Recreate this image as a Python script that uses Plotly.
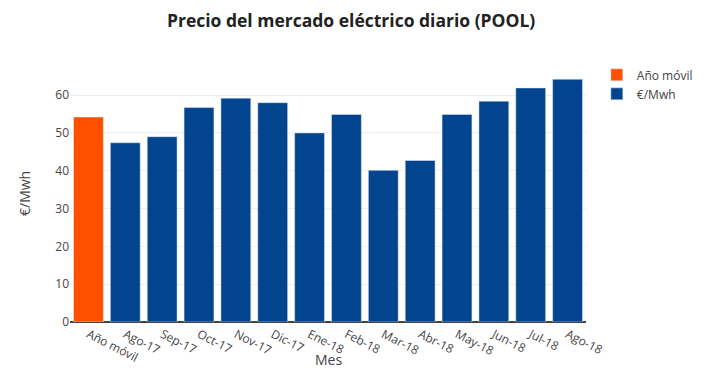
import plotly.graph_objects as go

movil_cat = ["Año móvil"]
movil_val = [54.2]
months = ["Ago-17", "Sep-17", "Oct-17", "Nov-17", "Dic-17", "Ene-18", "Feb-18",
          "Mar-18", "Abr-18", "May-18", "Jun-18", "Jul-18", "Ago-18"]
prices = [47.4, 49.0, 56.7, 59.2, 58.0, 50.0, 54.9, 40.1, 42.7, 54.9, 58.4, 61.9, 64.2]

fig = go.Figure()
fig.add_trace(go.Bar(x=movil_cat, y=movil_val, name="Año móvil", marker_color="#ff5000"))
fig.add_trace(go.Bar(x=months, y=prices, name="€/Mwh", marker_color="#03448f"))

# page body has an 8px margin, so the figure is drawn 8px smaller
fig.update_layout(
    width=706, height=376,
    margin=dict(l=62, r=128, t=58, b=62, autoexpand=False),
    font=dict(family="Open Sans", size=12, color="#444"),
    title=dict(text="<b>Precio del mercado eléctrico diario (POOL)</b>", x=0.486, xanchor="center",
               y=0.966, yanchor="middle", font=dict(size=17.5, color="#222")),
    barmode="group", bargap=0.19,
    paper_bgcolor="white", plot_bgcolor="white",
    showlegend=True,
    legend=dict(x=1.021, y=1.022, xanchor="left", yanchor="top", font=dict(size=12)),
    xaxis=dict(tickangle=27, showline=True,
               linecolor="#444", linewidth=1, categoryorder="array", automargin=False,
               categoryarray=movil_cat + months),
    yaxis=dict(gridcolor="#eee", dtick=10,
               zeroline=True, zerolinecolor="#444", range=[0, 67.7], automargin=False),
    annotations=[
        dict(text="Mes", xref="paper", yref="paper", x=0.5, y=-37.5 / 256,
             xanchor="center", yanchor="middle", showarrow=False, font=dict(size=14, color="#444")),
        dict(text="€/Mwh", xref="paper", yref="paper", x=-46 / 516, y=0.5, textangle=-90,
             xanchor="center", yanchor="middle", showarrow=False, font=dict(size=14, color="#444")),
    ],
)
fig.write_html("out.html")
